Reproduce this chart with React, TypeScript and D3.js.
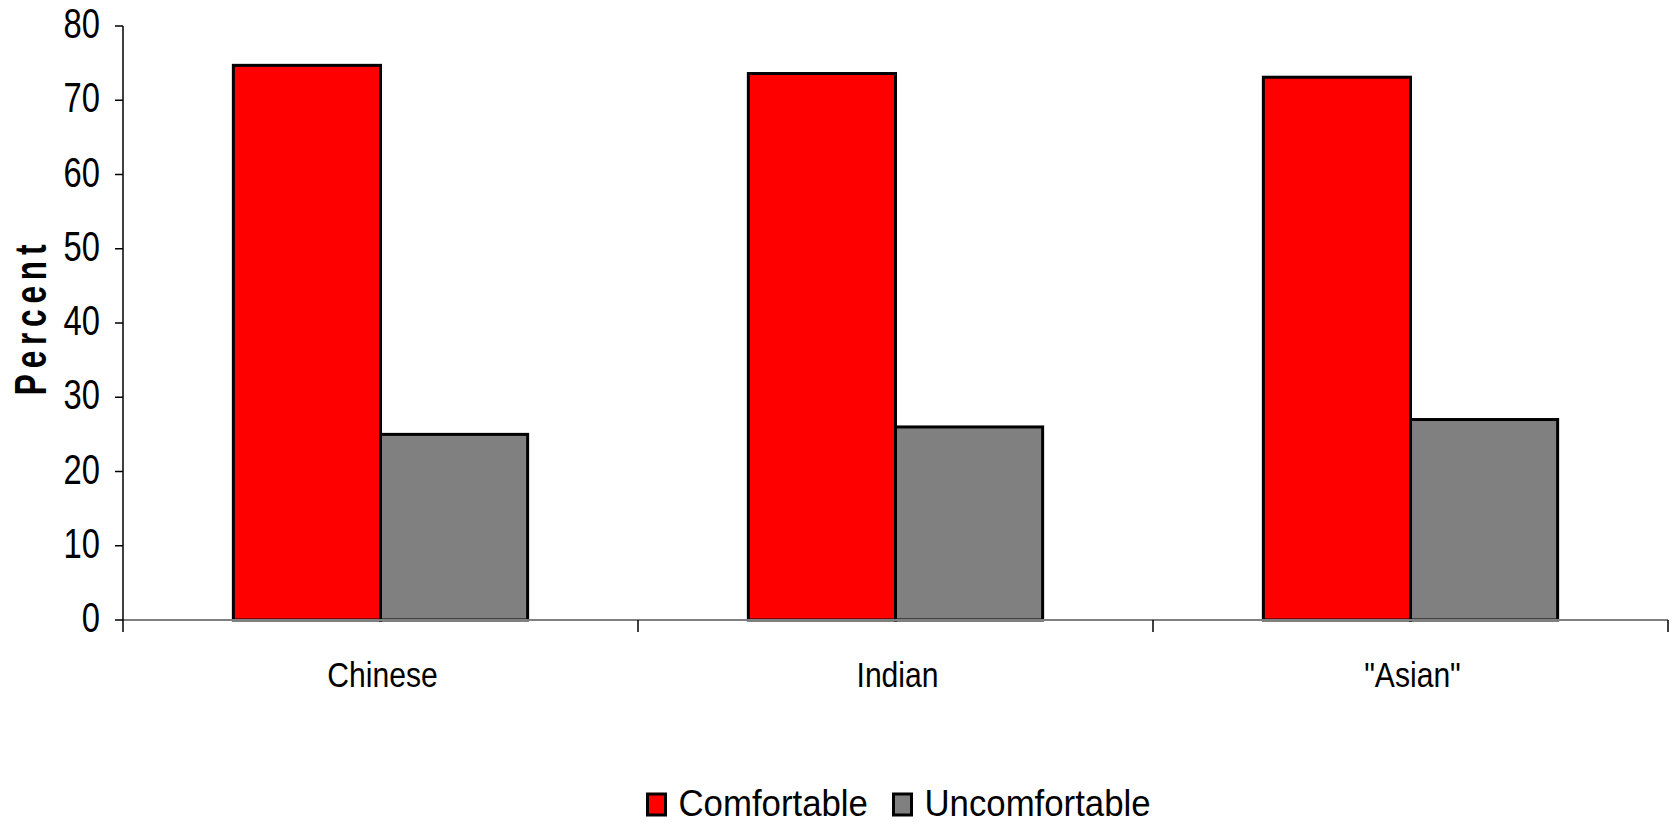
import React from "react";
import * as d3 from "d3";

const categories = ["Chinese", "Indian", "\"Asian\""];
const seriesNames = ["Comfortable", "Uncomfortable"];
const comfortable = [74.7, 73.6, 73.1];
const uncomfortable = [25.0, 26.0, 27.0];
const yTicks = [0, 10, 20, 30, 40, 50, 60, 70, 80];
const colors = ["#ff0000", "#808080"];

const W = 1675;
const H = 824;
const M = { left: 123, right: 1668, top: 26, bottom: 620 };
const FONT = "'Liberation Sans', Arial, sans-serif";

export default function App() {
  const x0 = d3.scaleBand<string>().domain(categories).range([M.left, M.right]).paddingInner(0).paddingOuter(0);
  const x1 = d3
    .scaleBand<string>()
    .domain(seriesNames)
    .range([0, x0.bandwidth()])
    .paddingInner(0)
    .paddingOuter(0.75);
  const y = d3.scaleLinear().domain([0, 80]).range([M.bottom, M.top]);
  const values = [comfortable, uncomfortable];

  const boundaries = [M.left, ...categories.map((c) => (x0(c) as number) + x0.bandwidth())];

  return (
    <svg
      width={W}
      height={H}
      style={{ position: "absolute", left: 0, top: 0, background: "#fff" }}
      fontFamily={FONT}
    >
      <rect x={0} y={0} width={W} height={H} fill="#fff" />
      {/* bars */}
      {categories.map((c, ci) =>
        seriesNames.map((s, si) => {
          const bx = (x0(c) as number) + (x1(s) as number);
          const v = values[si][ci];
          return (
            <rect
              key={c + s}
              x={bx}
              y={y(v)}
              width={x1.bandwidth()}
              height={y(0) - y(v)}
              fill={colors[si]}
              stroke="#000"
              strokeWidth={3}
            />
          );
        })
      )}
      {/* x axis */}
      <line x1={M.left} x2={M.right} y1={y(0)} y2={y(0)} stroke="#808080" strokeWidth={2} />
      {boundaries.map((bx, i) => (
        <line key={i} x1={bx} x2={bx} y1={y(0)} y2={y(0) + 12} stroke="#000" strokeWidth={1.5} />
      ))}
      {/* y axis */}
      <line x1={M.left} x2={M.left} y1={y(80)} y2={y(0)} stroke="#000" strokeWidth={1.5} />
      {yTicks.map((t) => (
        <g key={t}>
          <line x1={M.left - 8} x2={M.left} y1={y(t)} y2={y(t)} stroke="#000" strokeWidth={1.5} />
          <text
            transform={`translate(${M.left - 23},${y(t) + 12}) scale(0.78,1)`}
            textAnchor="end"
            fontSize={42}
            fill="#000"
          >
            {t}
          </text>
        </g>
      ))}
      {/* category labels */}
      {categories.map((c) => (
        <text
          key={c}
          transform={`translate(${(x0(c) as number) + x0.bandwidth() / 2 + 2},687) scale(0.86,1)`}
          textAnchor="middle"
          fontSize={35}
          fill="#000"
        >
          {c}
        </text>
      ))}
      {/* y label */}
      <text
        transform={`translate(46,317) rotate(-90) scale(0.72,1)`}
        textAnchor="middle"
        fontSize={44}
        fontWeight="bold"
        letterSpacing={8}
        fill="#000"
      >
        Percent
      </text>
      {/* legend */}
      {seriesNames.map((s, i) => {
        const lx = i === 0 ? 647.5 : 893.5;
        return (
          <g key={s}>
            <rect x={lx} y={794} width={18} height={21} fill={colors[i]} stroke="#000" strokeWidth={3} />
            <text
              transform={`translate(${lx + 31},816) scale(0.94,1)`}
              fontSize={37}
              fill="#000"
            >
              {s}
            </text>
          </g>
        );
      })}
    </svg>
  );
}
